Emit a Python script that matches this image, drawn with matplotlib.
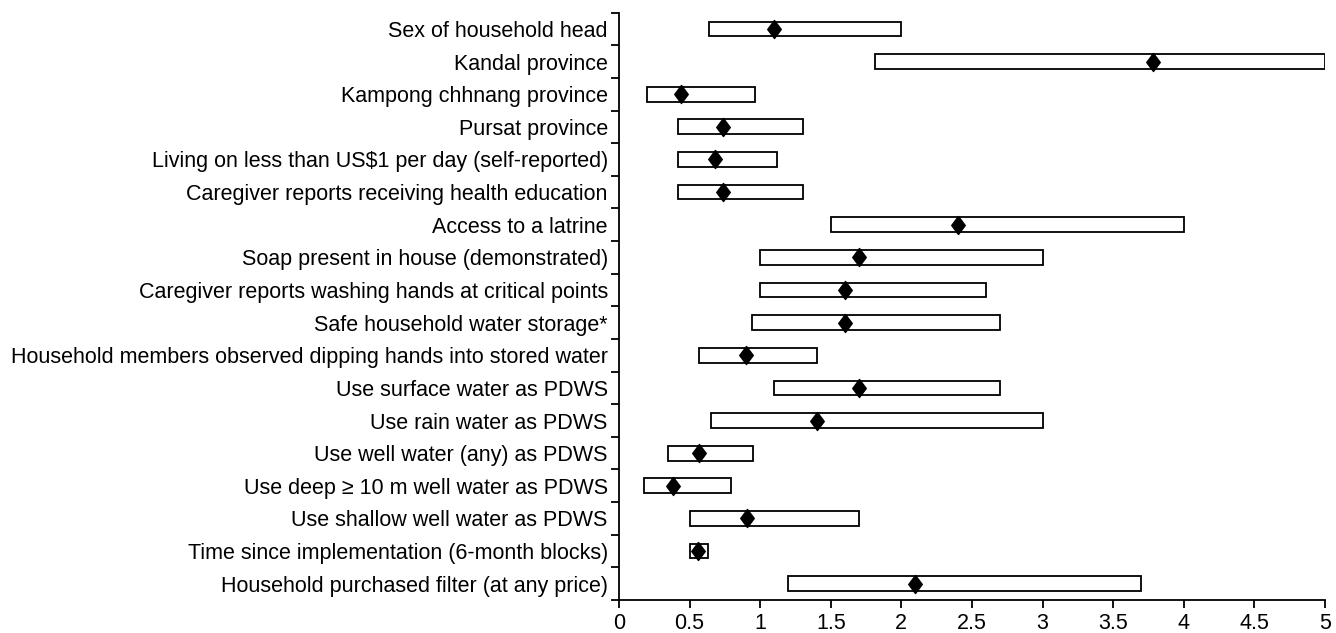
import numpy as np
import matplotlib.pyplot as plt
from matplotlib.path import Path

plt.rcParams['font.family'] = ['Liberation Sans', 'DejaVu Sans']

labels = [
    'Sex of household head',
    'Kandal province',
    'Kampong chhnang province',
    'Pursat province',
    'Living on less than US$1 per day (self-reported)',
    'Caregiver reports receiving health education',
    'Access to a latrine',
    'Soap present in house (demonstrated)',
    'Caregiver reports washing hands at critical points',
    'Safe household water storage*',
    'Household members observed dipping hands into stored water',
    'Use surface water as PDWS',
    'Use rain water as PDWS',
    'Use well water (any) as PDWS',
    'Use deep \u2265 10 m well water as PDWS',
    'Use shallow well water as PDWS',
    'Time since implementation (6-month blocks)',
    'Household purchased filter (at any price)',
]
odds_ratio = [1.10, 3.78, 0.44, 0.74, 0.68, 0.74, 2.40, 1.70, 1.60, 1.60,
              0.90, 1.70, 1.40, 0.57, 0.38, 0.91, 0.56, 2.10]
ci_low = [0.64, 1.81, 0.20, 0.42, 0.42, 0.42, 1.50, 1.00, 1.00, 0.94,
          0.57, 1.10, 0.65, 0.35, 0.18, 0.50, 0.50, 1.20]
ci_high = [2.00, 5.00, 0.96, 1.30, 1.12, 1.30, 4.00, 3.00, 2.60, 2.70,
           1.40, 2.70, 3.00, 0.95, 0.79, 1.70, 0.63, 3.70]
x_ticks = [0, 0.5, 1, 1.5, 2, 2.5, 3, 3.5, 4, 4.5, 5]

# diamond a bit taller than wide, like the original
diamond = Path([(0, 1), (0.75, 0), (0, -1), (-0.75, 0), (0, 1)],
               [Path.MOVETO, Path.LINETO, Path.LINETO, Path.LINETO, Path.CLOSEPOLY])


def main():
    fig = plt.figure(figsize=(13.36, 6.33), dpi=100)
    ax = fig.add_axes([0.4633, 0.0521, 0.5284, 0.928])

    n = len(labels)
    y = np.arange(n) + 0.5
    low = np.array(ci_low)
    high = np.array(ci_high)

    ax.barh(y, high - low, left=low, height=0.45, color='white',
            edgecolor='black', linewidth=1.3, zorder=2)
    ax.plot(odds_ratio, y, linestyle='none', marker=diamond, color='black',
            markersize=13, zorder=3)

    ax.set_xlim(0, 5)
    ax.set_ylim(n, 0)
    ax.set_xticks(x_ticks)
    ax.set_xticklabels([f'{t:g}' for t in x_ticks])
    ax.set_yticks(np.arange(n + 1))
    ax.set_yticklabels([])
    ax.set_yticks(y, minor=True)
    ax.set_yticklabels(labels, minor=True)

    ax.tick_params(axis='y', which='major', direction='out', length=6, width=1.3)
    ax.tick_params(axis='y', which='minor', length=0, pad=8, labelsize=15.5)
    ax.tick_params(axis='x', direction='out', length=6, width=1.3, labelsize=15.5)

    for side in ['top', 'right']:
        ax.spines[side].set_visible(False)
    for side in ['left', 'bottom']:
        ax.spines[side].set_linewidth(1.3)

    fig.savefig('out.png', dpi=100)


if __name__ == "__main__":
    main()
